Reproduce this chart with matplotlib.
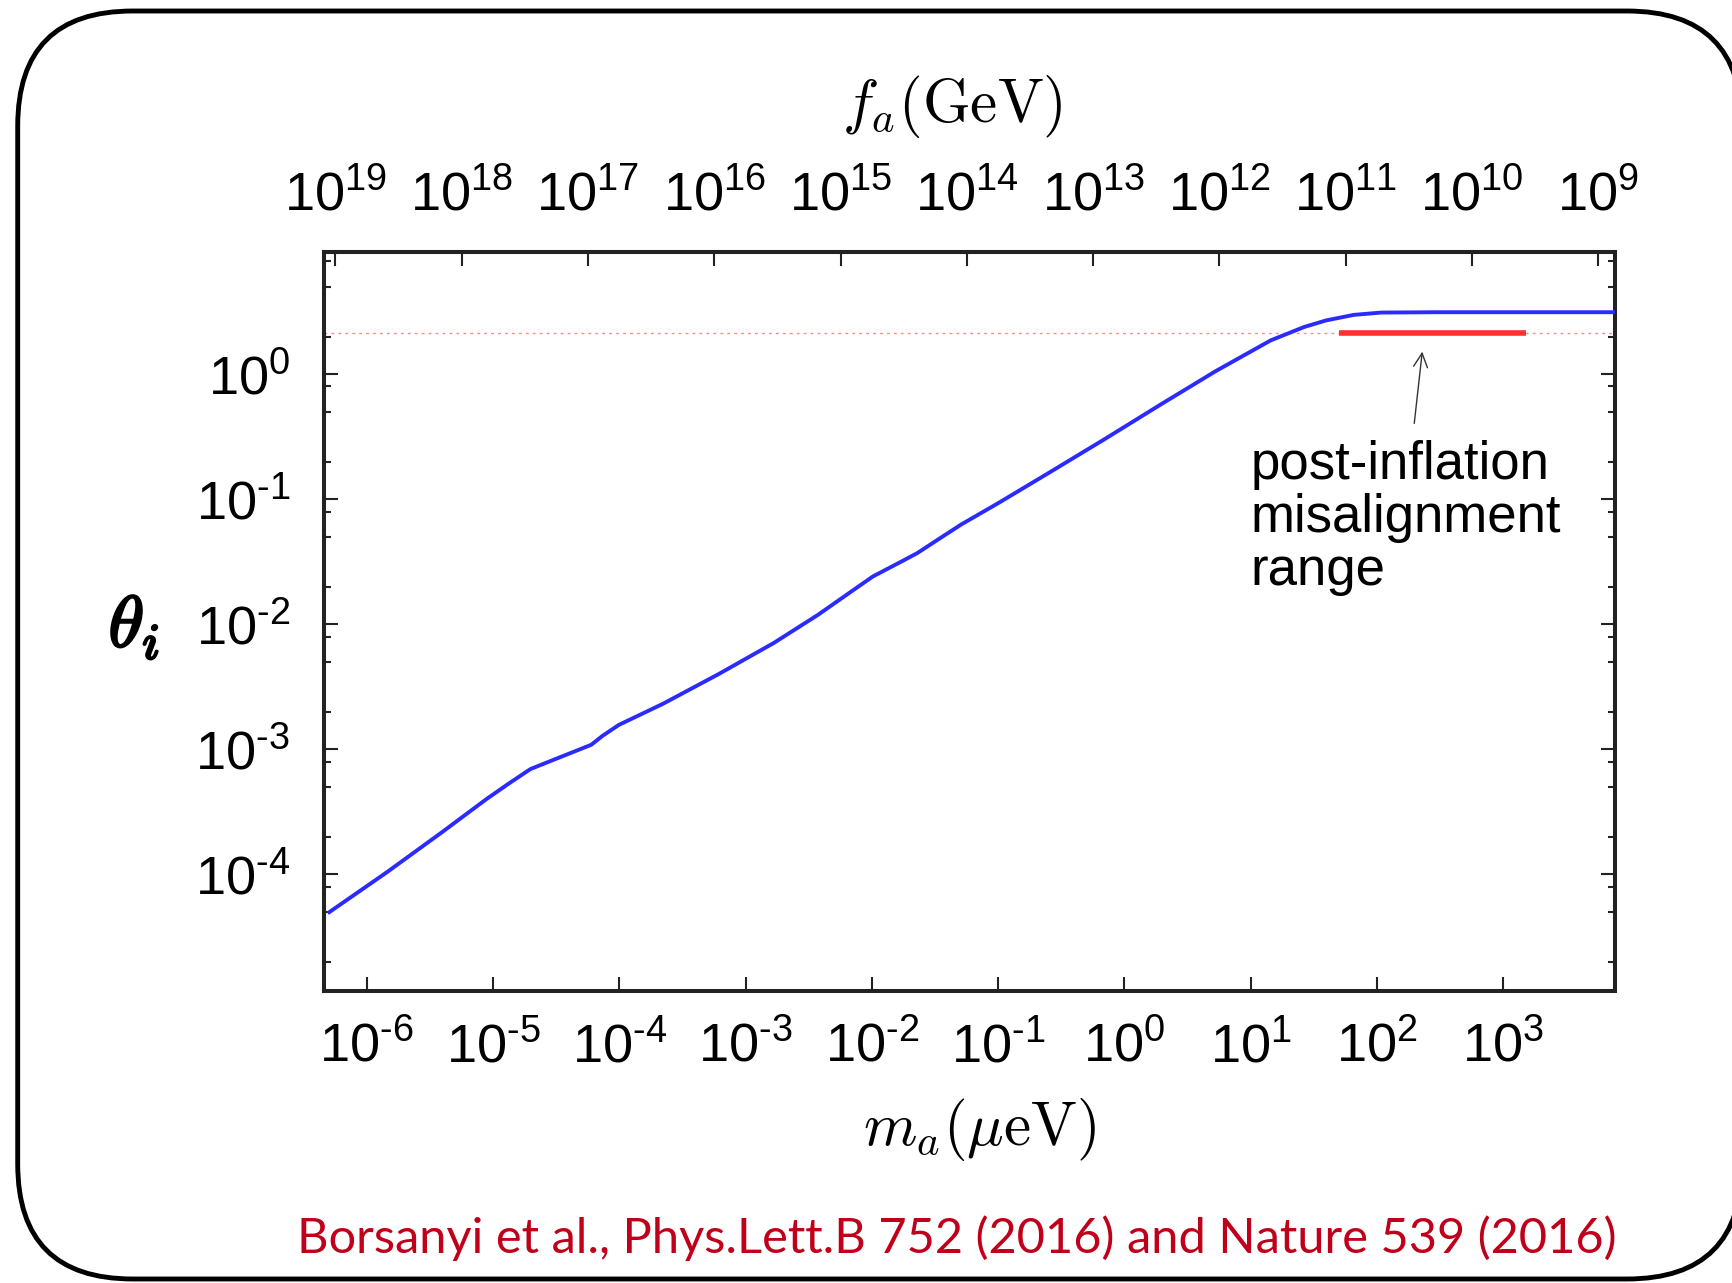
import numpy as np
import matplotlib
matplotlib.use("Agg")
import matplotlib.pyplot as plt
import matplotlib.ticker as ticker
import matplotlib.patheffects as pe
from matplotlib import font_manager
from matplotlib.patches import FancyBboxPatch
from matplotlib.transforms import IdentityTransform

# initial misalignment angle needed for the full dark matter density
mass_ueV = [5.06e-7, 1.44e-6, 3.95e-6, 8.85e-6, 1.32e-5, 1.98e-5, 2.96e-5,
            6.0e-5, 7.33e-5, 9.9e-5, 2.22e-4, 6.1e-4, 1.67e-3, 3.73e-3,
            6.8e-3, 1.02e-2, 1.69e-2, 2.29e-2, 3.42e-2, 5.1e-2, 9.95e-2,
            0.257, 0.703, 1.93, 5.27, 14.4, 26.4, 39.5, 65.5, 108, 297, 7650]
theta_i = [5.0e-5, 1.04e-4, 2.18e-4, 4.0e-4, 5.3e-4, 6.97e-4, 8.2e-4,
           1.09e-3, 1.28e-3, 1.57e-3, 2.32e-3, 4.0e-3, 7.1e-3, 1.19e-2,
           1.82e-2, 2.42e-2, 3.16e-2, 3.72e-2, 4.85e-2, 6.3e-2, 9.3e-2,
           0.165, 0.305, 0.573, 1.06, 1.87, 2.39, 2.70, 2.99, 3.12, 3.14, 3.14]

# post-inflation scenario: averaged angle and the allowed mass window
theta_post = 2.155
post_range = [50, 1500]

# f_a [GeV] = FA_CONST / m_a [ueV]
FA_CONST = 5.65e12
m_ticks = [1e-6, 1e-5, 1e-4, 1e-3, 1e-2, 1e-1, 1e0, 1e1, 1e2, 1e3]
f_ticks = [1e19, 1e18, 1e17, 1e16, 1e15, 1e14, 1e13, 1e12, 1e11, 1e10, 1e9]
theta_ticks = [1e-4, 1e-3, 1e-2, 1e-1, 1e0]

xlim = (4.55e-7, 7656)
ylim = (1.17e-5, 9.57)

plt.rcParams['font.family'] = 'Liberation Sans'
plt.rcParams['mathtext.fontset'] = 'custom'
plt.rcParams['mathtext.rm'] = 'Liberation Sans'
plt.rcParams['mathtext.it'] = 'Liberation Sans:italic'
plt.rcParams['mathtext.bf'] = 'Liberation Sans:bold'

W, H = 1733, 1283
fig = plt.figure(figsize=(W / 100, H / 100), dpi=100)
ax = fig.add_axes([323.5 / W, 1 - 991 / H, (1615 - 323.5) / W, (991 - 251.7) / H])


def pow10(v, pos=None):
    e = int(round(np.log10(v)))
    if e < 0:
        return r'$\mathregular{10^{\text{-}%d}}$' % (-e)
    return r'$\mathregular{10^{%d}}$' % e


ax.axhline(theta_post, color='#ff8a8a', lw=1.0, ls=(0, (2, 3)), zorder=1)
ax.plot(post_range, [theta_post, theta_post], color='#ff3030', lw=4.0,
        solid_capstyle='butt', zorder=2)
ax.plot(mass_ueV, theta_i, color='#2b2bff', lw=2.8, zorder=3)

ax.set_xscale('log')
ax.set_yscale('log')
ax.set_xlim(*xlim)
ax.set_ylim(*ylim)

ax.set_xticks(m_ticks)
ax.xaxis.set_major_formatter(ticker.FuncFormatter(pow10))
ax.xaxis.set_minor_locator(ticker.NullLocator())
ax.set_yticks(theta_ticks)
ax.yaxis.set_major_formatter(ticker.FuncFormatter(pow10))
ax.yaxis.set_minor_locator(ticker.LogLocator(base=10, subs=[2, 5, 8]))
ax.yaxis.set_minor_formatter(ticker.NullFormatter())

ax.tick_params(which='both', direction='in', top=False, right=True,
               width=1.5, colors='#222222', labelcolor='black')
ax.tick_params(which='major', length=10)
ax.tick_params(which='minor', length=5)
ax.tick_params(axis='x', pad=22, labelsize=39)
ax.tick_params(axis='y', pad=24, labelsize=39)
for s in ax.spines.values():
    s.set_linewidth(2.9)
    s.set_color('#222222')

# coupling scale on the top axis
secax = ax.secondary_xaxis('top', functions=(lambda m: FA_CONST / m,
                                             lambda f: FA_CONST / f))
secax.set_xticks(f_ticks)
secax.xaxis.set_major_formatter(ticker.FuncFormatter(pow10))
secax.xaxis.set_minor_locator(ticker.NullLocator())
secax.tick_params(direction='in', length=10, width=1.5, pad=22,
                  labelsize=39, colors='#222222', labelcolor='black')
secax.spines['top'].set_linewidth(2.9)
secax.spines['top'].set_color('#222222')

ax.annotate('', xy=(228, 1.52), xytext=(197, 0.405),
            arrowprops=dict(arrowstyle='->', color='#333333', lw=1.0,
                            mutation_scale=25, shrinkA=0, shrinkB=0))
ax.text(10.0, 0.30, 'post-inflation\nmisalignment\nrange', fontsize=38,
        ha='left', va='top', linespacing=1.08)

fig.text(952.6 / W, 1 - 107 / H, r'$f_a(\mathrm{GeV})$', math_fontfamily='cm',
         fontsize=44, ha='center', va='center')
fig.text(980 / W, 1 - 1129.5 / H, r'$m_a(\mu\mathrm{eV})$', math_fontfamily='cm',
         fontsize=44, ha='center', va='center')
fig.text(134 / W, 1 - 627.7 / H, r'$\theta_i$', math_fontfamily='cm',
         fontsize=52, ha='center', va='center',
         path_effects=[pe.withStroke(linewidth=1.8, foreground='black')])

# reference line, squeezed to the width of the plot frame
names = {f.name for f in font_manager.fontManager.ttflist}
cite_font = 'Liberation Sans Narrow' if 'Liberation Sans Narrow' in names else 'Lato'
cite = fig.text(1617 / W, 1 - 1238 / H,
                'Borsanyi et al., Phys.Lett.B 752 (2016) and Nature 539 (2016)',
                family=cite_font, fontsize=40, color='#c0001a',
                ha='right', va='center')
fig.canvas.draw()
cite.set_fontsize(40 * (1617 - 298) / cite.get_window_extent().width)

# rounded slide frame, running off the right edge of the page; a white
# face keeps the renderer from clipping (and bending) the curved corners
frame = FancyBboxPatch((17.7, H - 1279), 1742 - 17.7, 1279 - 11,
                       boxstyle='round,pad=0,rounding_size=115',
                       transform=IdentityTransform(), fc='white',
                       lw=3.5, ec='black', zorder=-1)
fig.add_artist(frame)

fig.savefig('out.png', dpi=100)
